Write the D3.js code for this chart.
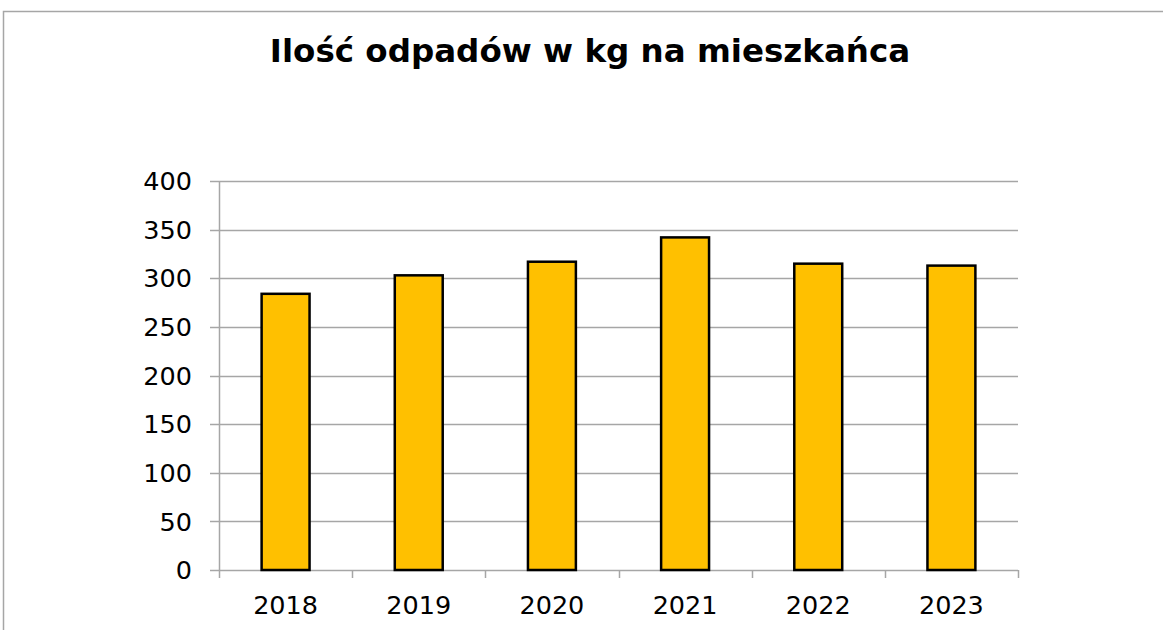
<!DOCTYPE html>
<html>
<head>
<meta charset="utf-8">
<script src="https://cdn.jsdelivr.net/npm/d3@7"></script>
<style>
  body { margin: 0; background: #fff; }
  text { font-family: "DejaVu Sans", Verdana, sans-serif; fill: #000; }
</style>
</head>
<body>
<div class="chart"></div>
<script>
let years  = ['2018', '2019', '2020', '2021', '2022', '2023'];
let values = [284, 303, 317, 342, 315, 313];
let yTicks = [0, 50, 100, 150, 200, 250, 300, 350, 400];
let title  = 'Ilość odpadów w kg na mieszkańca';

let width = 1163,
    height = 630;

let margin = {left: 219, right: 145, top: 181, bottom: 60};

let plot = d3.select('.chart').append('svg')
    .attr('width', width)
    .attr('height', height);

// outer frame (only top and left show in the crop)
plot.append('path')
    .attr('d', `M3.5,${height} L3.5,11.5 L${width},11.5`)
    .attr('fill', 'none')
    .attr('stroke', '#a6a6a6')
    .attr('stroke-width', 1.5);

plot.append('text')
    .attr('x', 590)
    .attr('y', 62)
    .attr('text-anchor', 'middle')
    .attr('font-size', 32.5)
    .attr('font-weight', 'bold')
    .text(title);

const x = d3.scaleBand()
    .domain(years)
    .range([margin.left, width - margin.right])
    .paddingInner(0.64)
    .paddingOuter(0.32);

const y = d3.scaleLinear()
    .domain([0, 400])
    .range([height - margin.bottom, margin.top]);

// gridlines
plot.append('g')
    .selectAll('line')
    .data(yTicks)
    .join('line')
    .attr('x1', margin.left - 9)
    .attr('x2', width - margin.right)
    .attr('y1', d => Math.round(y(d)) + 0.5)
    .attr('y2', d => Math.round(y(d)) + 0.5)
    .attr('stroke', '#a6a6a6')
    .attr('stroke-width', 1.5);

// y axis line
plot.append('line')
    .attr('x1', margin.left + 0.5).attr('x2', margin.left + 0.5)
    .attr('y1', y(400)).attr('y2', y(0))
    .attr('stroke', '#a6a6a6')
    .attr('stroke-width', 1.5);

// y labels
plot.append('g')
    .selectAll('text')
    .data(yTicks)
    .join('text')
    .attr('x', 192)
    .attr('y', d => y(d))
    .attr('dy', '0.36em')
    .attr('text-anchor', 'end')
    .attr('font-size', 25.5)
    .text(d => d);

// category tick marks on x axis
let step = x.step();
let catEdges = d3.range(years.length + 1).map(i => margin.left + i * step);
plot.append('g')
    .selectAll('line')
    .data(catEdges)
    .join('line')
    .attr('x1', d => Math.round(d) + 0.5)
    .attr('x2', d => Math.round(d) + 0.5)
    .attr('y1', y(0))
    .attr('y2', y(0) + 8)
    .attr('stroke', '#a6a6a6')
    .attr('stroke-width', 1.5);

// bars
plot.append('g')
    .selectAll('rect')
    .data(values)
    .join('rect')
    .attr('x', (d, i) => x(years[i]))
    .attr('y', d => y(d))
    .attr('width', x.bandwidth())
    .attr('height', d => y(0) - y(d))
    .attr('fill', '#ffc000')
    .attr('stroke', '#000')
    .attr('stroke-width', 2.5);

// x labels
plot.append('g')
    .selectAll('text')
    .data(years)
    .join('text')
    .attr('x', d => x(d) + x.bandwidth() / 2)
    .attr('y', 614)
    .attr('text-anchor', 'middle')
    .attr('font-size', 25.5)
    .text(d => d);
</script>
</body>
</html>
